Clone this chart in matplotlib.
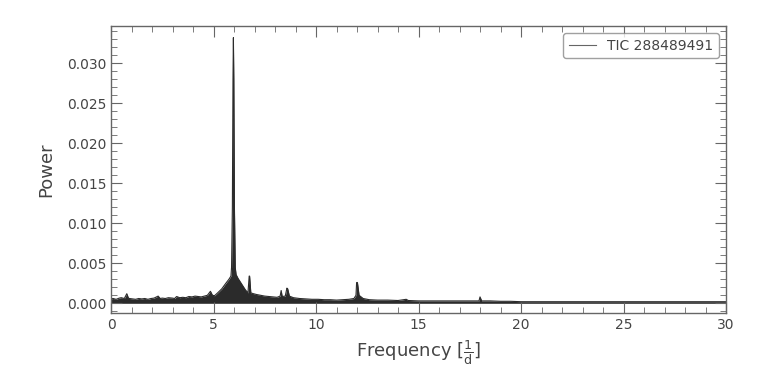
import matplotlib
matplotlib.use("Agg")
import matplotlib.pyplot as plt
from matplotlib.ticker import MultipleLocator

# Periodogram envelope (frequency in 1/d, power)
frequency = [0.00, 0.10, 0.25, 0.40, 0.50, 0.65, 0.77, 0.85, 0.90, 1.05, 1.20, 1.35, 1.50, 1.65,
             1.80, 1.95, 2.10, 2.30, 2.40, 2.50, 2.65, 2.80, 3.00, 3.10, 3.20, 3.35, 3.50,
             3.65, 3.80, 3.95, 4.10, 4.25, 4.40, 4.55, 4.70, 4.85, 4.95, 5.05, 5.20, 5.40,
             5.60, 5.75, 5.85, 5.88, 5.92, 5.95, 5.97, 5.99, 6.02, 6.06, 6.10, 6.20, 6.30,
             6.40, 6.55, 6.68, 6.74, 6.76, 6.82, 6.95, 7.10, 7.30, 7.50, 7.70, 7.90, 8.10,
             8.25, 8.30, 8.35, 8.50, 8.58, 8.62, 8.70, 8.90, 9.20, 9.50, 9.80, 10.10, 10.40,
             10.70, 11.00, 11.30, 11.60, 11.85, 11.95, 11.98, 12.02, 12.10, 12.30, 12.60,
             13.00, 13.50, 14.00, 14.40, 14.50, 15.00, 15.50, 16.00, 16.50, 17.00, 17.50,
             17.95, 18.00, 18.08, 18.50, 19.00, 19.50, 20.00, 22.00, 24.00, 26.00, 28.00,
             30.00]
power = [0.00055, 0.00060, 0.00050, 0.00065, 0.00070, 0.00060, 0.00120, 0.00065, 0.00060,
         0.00055, 0.00050, 0.00060, 0.00055, 0.00060, 0.00050, 0.00060, 0.00065, 0.00090,
         0.00060, 0.00065, 0.00060, 0.00070, 0.00065, 0.00060, 0.00085, 0.00070, 0.00075,
         0.00070, 0.00085, 0.00080, 0.00090, 0.00085, 0.00080, 0.00090, 0.00100, 0.00150,
         0.00100, 0.00095, 0.00130, 0.00180, 0.00250, 0.00300, 0.00340, 0.00450, 0.01200,
         0.02800, 0.03320, 0.02800, 0.01200, 0.00450, 0.00360, 0.00310, 0.00270, 0.00230,
         0.00170, 0.00130, 0.00340, 0.00340, 0.00130, 0.00120, 0.00110, 0.00100, 0.00090,
         0.00085, 0.00080, 0.00075, 0.00090, 0.00160, 0.00085, 0.00090, 0.00190, 0.00180,
         0.00090, 0.00070, 0.00060, 0.00055, 0.00050, 0.00050, 0.00045, 0.00045, 0.00040,
         0.00045, 0.00050, 0.00060, 0.00100, 0.00260, 0.00260, 0.00100, 0.00060, 0.00045,
         0.00040, 0.00040, 0.00035, 0.00050, 0.00035, 0.00030, 0.00030, 0.00030, 0.00030,
         0.00030, 0.00030, 0.00030, 0.00080, 0.00030, 0.00030, 0.00025, 0.00025, 0.00020,
         0.00020, 0.00020, 0.00020, 0.00020, 0.00020]
label = "TIC 288489491"

fig = plt.figure(figsize=(7.64, 3.83), dpi=100)
ax = fig.add_axes([0.1453, 0.1828, 0.8050, 0.7493])

ax.fill_between(frequency, 0, power, color="#2b2b2b", linewidth=0)
ax.plot(frequency, power, color="#2b2b2b", linewidth=0.8, label=label)

ax.set_xlim(0, 30)
ax.set_ylim(-0.00121, 0.03466)

ax.xaxis.set_major_locator(MultipleLocator(5))
ax.xaxis.set_minor_locator(MultipleLocator(1))
ax.yaxis.set_major_locator(MultipleLocator(0.005))
ax.yaxis.set_minor_locator(MultipleLocator(0.001))
ax.yaxis.set_major_formatter(matplotlib.ticker.FormatStrFormatter("%.3f"))

for s in ax.spines.values():
    s.set_color("#666666")
    s.set_linewidth(1.0)
ax.tick_params(which="both", direction="in", top=True, right=True, colors="#666666",
               labelcolor="#444444", labelsize=10)
ax.tick_params(which="major", length=8)
ax.tick_params(which="minor", length=4)

ax.set_xlabel(r"Frequency $[\frac{1}{\mathrm{d}}]$", fontsize=13, color="#444444", labelpad=5)
ax.set_ylabel("Power", fontsize=13, color="#444444", labelpad=8)

leg = ax.legend(loc="upper right", fontsize=10, frameon=True, fancybox=True,
                edgecolor="#888888", handlelength=2.0)
for t in leg.get_texts():
    t.set_color("#444444")
for l in leg.get_lines():
    l.set_color("#666666")

fig.savefig("out.png", dpi=100)
